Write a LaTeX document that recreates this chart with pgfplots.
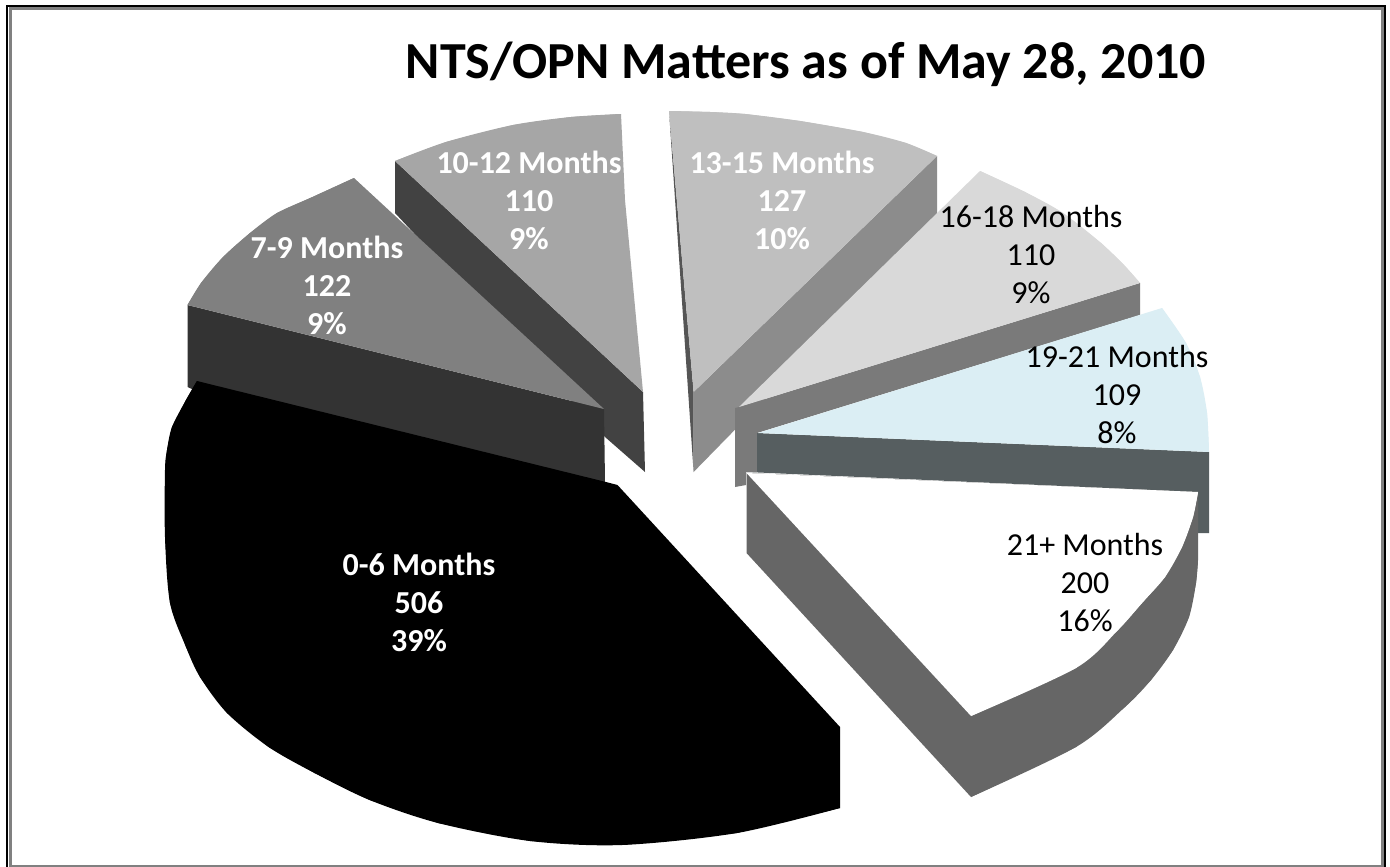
\documentclass[border=0pt]{standalone}
\usepackage{pgfplots}
\pgfplotsset{compat=1.18}
\usepackage{fontspec}
\setmainfont{Carlito}
\definecolor{cA}{HTML}{808080}
\definecolor{cAs}{HTML}{333333}
\definecolor{cB}{HTML}{A6A6A6}
\definecolor{cBs}{HTML}{424242}
\definecolor{cC}{HTML}{BFBFBF}
\definecolor{cCs}{HTML}{8C8C8C}
\definecolor{cCd}{HTML}{555555}
\definecolor{cD}{HTML}{D9D9D9}
\definecolor{cDs}{HTML}{7A7A7A}
\definecolor{cE}{HTML}{DBEEF4}
\definecolor{cEs}{HTML}{565E60}
\definecolor{cFs}{HTML}{666666}
\newcommand{\lab}[5]{\node[align=center,text=#4,font=\fontsize{32}{38}\selectfont#5,inner sep=0pt] at (axis cs:#1,#2) {#3};}
\begin{document}
\begin{tikzpicture}
\begin{axis}[scale only axis,width=1390pt,height=867pt,xmin=0,xmax=1390,ymin=0,ymax=867,y dir=reverse,hide axis,clip=true]
\addplot[fill=white,draw=none] coordinates {(0,0)(1390,0)(1390,867)(0,867)} --cycle;
% 10-12 side and top
\addplot[fill=cBs,draw=none] coordinates {(395,161)(643,392)(645,472)(605,437)(395,213)} --cycle;
\addplot[fill=cB,draw=none] coordinates {(395,161)(446,142)(513,125)(571,117)(621,114)(625,200)(643,392)} --cycle;
\addplot[smooth,fill=cB,draw=none] coordinates {(395,161)(446,142)(513,125)(571,117)(621,114)} --cycle;
% 7-9 side and top
\addplot[fill=cAs,draw=none] coordinates {(187.5,305)(604,409)(605,482)(590,490)(205,395)(187.5,387)} --cycle;
\addplot[fill=cA,draw=none] coordinates {(187.5,305)(201,283)(223,257)(250,233)(277,213)(312.5,197)(354,178)(604,409)} --cycle;
\addplot[smooth,fill=cA,draw=none] coordinates {(187.5,305)(201,283)(223,257)(250,233)(277,213)(312.5,197)(354,178)} --cycle;
% 0-6
\addplot[fill=black,draw=none] coordinates {(197,381)(606,482)(617.5,485)(840,727)(840,808)(737,833)(622,845)(530,841)(438,823)(369.6,800)(314.5,773)(268.6,747)(227,713)(200,677)(186,647)(170,603)(165,537)(165,470)(167,450)(172,427)(186,400)} --cycle;
\addplot[smooth,fill=black,draw=none] coordinates {(840,808)(737,833)(622,845)(530,841)(438,823)(369.6,800)(314.5,773)(268.6,747)(227,713)(200,677)(186,647)(170,603)(165,537)(165,470)(167,450)(172,427)(186,400)(197,381)} --cycle;
% 13-15
\addplot[fill=cCd,draw=none] coordinates {(669,111)(693.6,392)(693.6,472)} --cycle;
\addplot[fill=cCs,draw=none] coordinates {(937,156)(937,223)(693.6,472)(693.6,392)} --cycle;
\addplot[fill=cC,draw=none] coordinates {(669,111)(710,112)(745,114)(800,121)(863,132)(906,143)(937,156)(693.6,392)} --cycle;
\addplot[smooth,fill=cC,draw=none] coordinates {(669,111)(710,112)(745,114)(800,121)(863,132)(906,143)(937,156)} --cycle;
% 16-18
\addplot[fill=cDs,draw=none] coordinates {(739,407)(1140,283)(1140,315)(757,433)(757,472)(746,472)(746,485)(735,487)(735,408)} --cycle;
\addplot[fill=cD,draw=none] coordinates {(980,171)(1025,192)(1063,213)(1101,243)(1124,265)(1140,283)(739,407)} --cycle;
\addplot[smooth,fill=cD,draw=none] coordinates {(980,171)(1025,192)(1063,213)(1101,243)(1124,265)(1140,283)} --cycle;
% 19-21
\addplot[fill=cEs,draw=none] coordinates {(757,433)(1209,452)(1209,533)(1198,533)(1198,492)(747,472)(757,472)} --cycle;
\addplot[fill=cE,draw=none] coordinates {(1162,308)(1186,343)(1200,377)(1207,413)(1209,452)(758,433)} --cycle;
\addplot[smooth,fill=cE,draw=none] coordinates {(1162,308)(1186,343)(1200,377)(1207,413)(1209,452)} --cycle;
% 21+
\addplot[fill=cFs,draw=none] coordinates {(746.5,473)(1198,492)(1198,560)(1196,583)(1189,617)(1173,650)(1151,680)(1125,707)(1076,747)(971,797)(746.5,553)} --cycle;
\addplot[smooth,fill=cFs,draw=none] coordinates {(1198,560)(1196,583)(1189,617)(1173,650)(1151,680)(1125,707)(1076,747)(971,797)} --cycle;
\addplot[fill=white,draw=none] coordinates {(746.5,473)(1198,492)(1193,517)(1182,547)(1165,577)(1142,603)(1118,630)(1076,668)(971,716)} --cycle;
\addplot[smooth,fill=white,draw=none] coordinates {(1198,492)(1193,517)(1182,547)(1165,577)(1142,603)(1118,630)(1076,668)(971,716)} --cycle;
% frame
\addplot[draw=black,line width=2pt] coordinates {(7,867)(7,5.7)(1385,5.7)(1385,867)};
\addplot[draw=black!50,line width=3pt] coordinates {(10.5,867)(10.5,8.5)(1382.5,8.5)(1382.5,867)};
\addplot[draw=black!50,line width=1.5pt] coordinates {(10.5,866.2)(1382.5,866.2)};
\node[font=\fontsize{52}{52}\selectfont\bfseries,inner sep=0pt,anchor=base] at (axis cs:806,78) {NTS/OPN Matters as of May 28, 2010};
\lab{529}{200}{10-12 Months\\110\\9\%}{white}{\bfseries}
\lab{327}{285}{7-9 Months\\122\\9\%}{white}{\bfseries}
\lab{782}{200}{13-15 Months\\127\\10\%}{white}{\bfseries}
\lab{1031}{255}{16-18 Months\\110\\9\%}{black}{}
\lab{1117}{395}{19-21 Months\\109\\8\%}{black}{}
\lab{1085}{583}{21+ Months\\200\\16\%}{black}{}
\lab{419}{602}{0-6 Months\\506\\39\%}{white}{\bfseries}
\end{axis}
\end{tikzpicture}
\end{document}
